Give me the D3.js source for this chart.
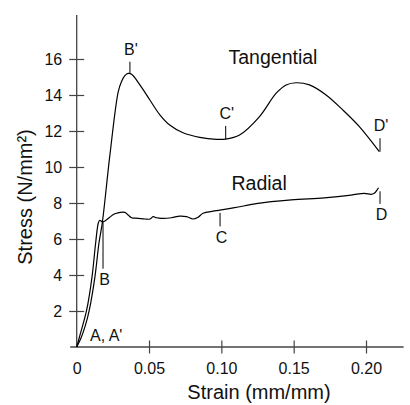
<!DOCTYPE html>
<html>
<head>
<meta charset="utf-8">
<script src="https://cdn.jsdelivr.net/npm/d3@7"></script>
<style>
  body { margin: 0; background: #fff; }
  svg { display: block; font-family: Arial, "Liberation Sans", sans-serif; }
</style>
</head>
<body>
<div id="chart"></div>
<script>
// Tangential curve (strain mm/mm, stress N/mm2)
const tanStrain = [0, 0.003, 0.006, 0.0087, 0.0126, 0.0154, 0.0177, 0.023, 0.0287, 0.031, 0.0333, 0.0356,
  0.038, 0.0437, 0.0506, 0.0575, 0.0643, 0.0735, 0.085, 0.0966, 0.1028, 0.1126, 0.1264, 0.1379, 0.1448,
  0.1517, 0.1609, 0.1724, 0.1839, 0.1954, 0.2092];
const tanStress = [0, 0.5, 1.2, 2.05, 3.9, 5.78, 6.9, 10.7, 14.18, 14.75, 15.08, 15.2,
  15.15, 14.56, 13.72, 12.9, 12.33, 11.9, 11.65, 11.54, 11.55, 11.78, 12.8, 14.1, 14.56,
  14.68, 14.56, 14.0, 13.17, 12.24, 10.85];

// Radial curve
const radStrain = [0, 0.0023, 0.0069, 0.0106, 0.0131, 0.015, 0.016, 0.0177, 0.0195, 0.0264, 0.0333, 0.0356,
  0.0379, 0.0425, 0.0471, 0.0506, 0.0528, 0.0552, 0.0586, 0.0655, 0.0712, 0.0759, 0.0804, 0.0839, 0.0873,
  0.0954, 0.1092, 0.1252, 0.1483, 0.1712, 0.1897, 0.1988, 0.2034, 0.2057, 0.2076, 0.2087];
const radStress = [0, 0.67, 2.06, 3.9, 5.78, 6.9, 7.04, 6.95, 7.0, 7.4, 7.48, 7.33,
  7.18, 7.15, 7.11, 7.11, 7.24, 7.18, 7.15, 7.18, 7.27, 7.24, 7.11, 7.21, 7.43,
  7.56, 7.74, 7.98, 8.17, 8.29, 8.44, 8.54, 8.48, 8.54, 8.72, 8.85];

const xTicks = [0, 0.05, 0.10, 0.15, 0.20];
const xTickLabels = ["0", "0.05", "0.10", "0.15", "0.20"];
const yTicks = [2, 4, 6, 8, 10, 12, 14, 16];

// point labels: text, strain, tick from stress, tick to stress
const markNames = ["B'", "C'", "D'", "B", "C", "D"];
const markStrain = [0.0368, 0.103, 0.2097, 0.0182, 0.0991, 0.2097];
const markFrom = [15.17, 11.55, 10.85, 6.95, 7.45, 8.65];
const markTo = [15.85, 12.28, 11.6, 4.35, 6.7, 7.95];

const width = 410, height = 405;

const x = d3.scaleLinear().domain([0, 0.2]).range([76.7, 366]);
const y = d3.scaleLinear().domain([0, 16]).range([347, 59]);

const svg = d3.select("#chart").append("svg")
    .attr("width", width)
    .attr("height", height);

const axisColor = "#444";

// Axes lines
svg.append("line")
    .attr("x1", x(-0.0045)).attr("x2", x(0.226))
    .attr("y1", y(0)).attr("y2", y(0))
    .attr("stroke", axisColor).attr("stroke-width", 1.3);
svg.append("line")
    .attr("x1", x(0)).attr("x2", x(0))
    .attr("y1", y(0)).attr("y2", y(18.45))
    .attr("stroke", axisColor).attr("stroke-width", 1.3);

// X axis
const gx = svg.append("g")
    .attr("transform", `translate(0,${y(0)})`)
    .call(d3.axisBottom(x).tickValues(xTicks)
        .tickFormat((d, i) => xTickLabels[i])
        .tickSize(6.5).tickPadding(9));
gx.select(".domain").remove();
gx.selectAll(".tick line")
    .attr("y1", -6.5)
    .attr("stroke", axisColor).attr("stroke-width", 1.2)
    .attr("display", d => d === 0 ? "none" : null);
gx.selectAll(".tick text")
    .attr("font-size", 16).attr("fill", "#111")
    .attr("font-family", "Arial, 'Liberation Sans', sans-serif");

// Y axis
const gy = svg.append("g")
    .attr("transform", `translate(${x(0)},0)`)
    .call(d3.axisLeft(y).tickValues(yTicks).tickSize(7.5).tickPadding(7));
gy.select(".domain").remove();
gy.selectAll(".tick line")
    .attr("x1", 7.5)
    .attr("stroke", axisColor).attr("stroke-width", 1.2);
gy.selectAll(".tick text")
    .attr("font-size", 16).attr("fill", "#111")
    .attr("font-family", "Arial, 'Liberation Sans', sans-serif");

// Axis titles
svg.append("text")
    .attr("x", 259).attr("y", 399)
    .attr("text-anchor", "middle")
    .attr("font-size", 20).attr("fill", "#111")
    .text("Strain (mm/mm)");

svg.append("text")
    .attr("transform", "translate(31.5,197) rotate(-90)")
    .attr("text-anchor", "middle")
    .attr("font-size", 20).attr("fill", "#111")
    .text("Stress (N/mm²)");

// Curves
const line = d3.line()
    .x(d => x(d[0]))
    .y(d => y(d[1]))
    .curve(d3.curveCatmullRom.alpha(0.5));

svg.append("path")
    .datum(tanStrain.map((s, i) => [s, tanStress[i]]))
    .attr("d", line)
    .attr("fill", "none").attr("stroke", "#000").attr("stroke-width", 1.2);

svg.append("path")
    .datum(radStrain.map((s, i) => [s, radStress[i]]))
    .attr("d", line)
    .attr("fill", "none").attr("stroke", "#000").attr("stroke-width", 1.2);

// Point markers and labels
markNames.forEach((name, i) => {
    svg.append("line")
        .attr("x1", x(markStrain[i])).attr("x2", x(markStrain[i]))
        .attr("y1", y(markFrom[i])).attr("y2", y(markTo[i]))
        .attr("stroke", "#000").attr("stroke-width", 1);
    const up = markTo[i] > markFrom[i];
    svg.append("text")
        .attr("x", x(markStrain[i]) + (name.length > 1 ? 1 : 1.5))
        .attr("y", up ? y(markTo[i]) - 7 : y(markTo[i]) + 16.5)
        .attr("text-anchor", "middle")
        .attr("font-size", 16).attr("fill", "#111")
        .text(name);
});

svg.append("text")
    .attr("x", 90).attr("y", 341)
    .attr("font-size", 16).attr("fill", "#111")
    .text("A, A'");

// Curve names
svg.append("text")
    .attr("x", 228.5).attr("y", 63.5)
    .attr("font-size", 19.5).attr("fill", "#111")
    .text("Tangential");
svg.append("text")
    .attr("x", 231.5).attr("y", 190)
    .attr("font-size", 19.5).attr("fill", "#111")
    .text("Radial");
</script>
</body>
</html>
